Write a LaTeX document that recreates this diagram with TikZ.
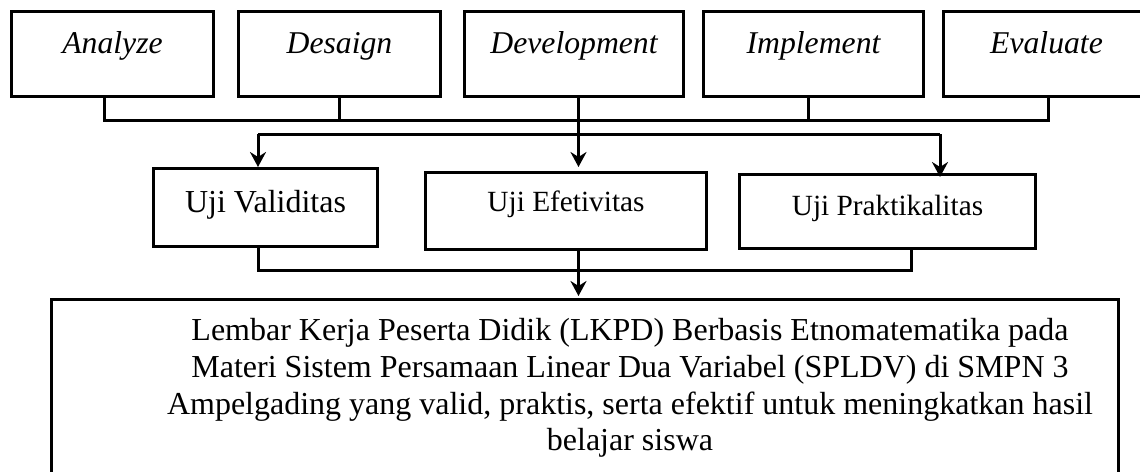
\documentclass[tikz,border=0pt]{standalone}
\usepackage{fontspec}
\setmainfont{Liberation Serif}
\usetikzlibrary{arrows.meta,positioning,calc}

\begin{document}
\begin{tikzpicture}[
  x=1pt, y=-1pt,
  stagebox/.style={
    rectangle, draw=black, line width=3pt,
    inner sep=0pt, anchor=north west,
    text height=42pt, text depth=43pt,
    font=\fontsize{31.7}{36}\selectfont\itshape
  },
  testbox/.style={
    rectangle, draw=black, line width=3pt,
    inner sep=0pt, anchor=north west,
    font=\fontsize{29.3}{36}\selectfont
  },
  line/.style={line width=3pt},
  conn/.style={-{Stealth[length=15pt,width=16pt,inset=5pt]}, line width=3pt}
]
\useasboundingbox (0,0) rectangle (1140,471);
\clip (0,0) rectangle (1140,471);

% ADDIE stages
\node[stagebox, minimum width=202pt] (ana) at (10,10)  {Analyze};
\node[stagebox, minimum width=202pt] (des) at (237,10) {Desaign};
\node[stagebox, minimum width=219pt] (dev) at (463,10) {Development};
\node[stagebox, minimum width=220pt] (imp) at (702,10) {Implement};
\node[stagebox, minimum width=206pt] (eva) at (942,10) {Evaluate};

% uji produk
\node[testbox, minimum width=224pt, text height=44pt, text depth=34pt,
      font=\fontsize{32}{36}\selectfont] (val) at (152,167) {Uji Validitas};
\node[testbox, minimum width=281pt, text height=39pt, text depth=38pt] (efe) at (424,171) {Uji Efetivitas};
\node[testbox, minimum width=296pt, text height=41pt, text depth=33pt] (pra) at (738,173) {Uji Praktikalitas};

% hasil akhir
\node[rectangle, draw=black, line width=3pt, anchor=north west,
      minimum width=1067pt, minimum height=220pt] (hasil) at (50,298) {};
\node[font=\fontsize{32}{36.7}\selectfont, align=center] (hasiltxt) at (630,388)
  {Lembar Kerja Peserta Didik (LKPD) Berbasis Etnomatematika pada\\
   Materi Sistem Persamaan Linear Dua Variabel (SPLDV) di SMPN 3\\
   Ampelgading yang valid, praktis, serta efektif untuk meningkatkan hasil\\
   belajar siswa};

\coordinate (splitL) at (258,134);
\coordinate (splitR) at (940,134);
\coordinate (evaS) at ([xshift=2pt]eva.south);

\draw[line] ([xshift=-8pt]ana.south) -- ++(0,22) coordinate (busT) -- (busT -| evaS) -- (evaS);
\draw[line] (des.south) -- (des.south |- busT);
\draw[line] ([xshift=-5pt]imp.south) -- ([xshift=-5pt]imp.south |- busT);

\draw[line] (splitL) -- (splitR);
\draw[conn] (splitL) -- (splitL |- val.north);
\draw[conn] (splitR) -- ([yshift=-4pt]splitR |- pra.north);
\draw[conn, shorten >=4pt] ([xshift=4.5pt]dev.south) -- ([xshift=4.5pt]dev.south |- efe.north);

\draw[line] ([xshift=-7pt]val.south) -- ++(0,22) coordinate (busB) -| ([xshift=24pt]pra.south);
\draw[conn, shorten >=2pt] ([xshift=12.5pt]efe.south) -- ([xshift=12.5pt]efe.south |- hasil.north);
\end{tikzpicture}
\end{document}
